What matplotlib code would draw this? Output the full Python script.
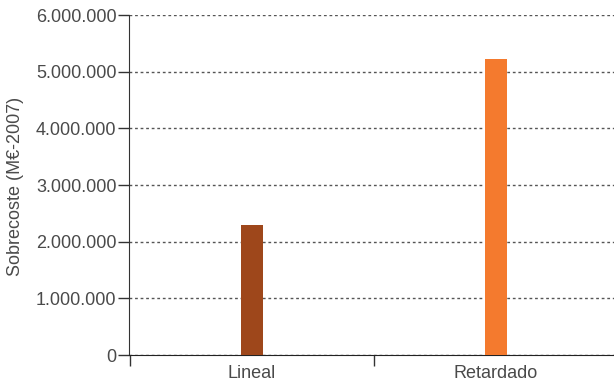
import matplotlib
matplotlib.use("Agg")
import matplotlib.pyplot as plt
from matplotlib.ticker import FuncFormatter, FixedLocator

categories = ["Lineal", "Retardado"]
values = [2290000, 5215000]
colors = ["#9E471B", "#F47A2E"]
yticks = [0, 1000000, 2000000, 3000000, 4000000, 5000000, 6000000]

plt.rcParams['font.family'] = ['Liberation Sans', 'DejaVu Sans']

fig = plt.figure(figsize=(6.14, 3.84), dpi=100)
ax = fig.add_axes([129/614, 1-355/384, 1-129/614, (355-15)/384])

x = list(range(len(categories)))
ax.bar(x, values, width=0.09, color=colors, zorder=3)

ax.set_xlim(-0.504, 1.484)
ax.set_ylim(0, 6000000)
ax.set_yticks(yticks)
ax.yaxis.set_major_formatter(FuncFormatter(lambda v, p: f"{int(v):,}".replace(",", ".")))
ax.set_xticks(x)
ax.set_xticklabels(categories)
ax.xaxis.set_minor_locator(FixedLocator([-0.5 + i for i in range(len(categories) + 1)]))

ax.tick_params(axis='x', which='major', length=0, pad=7, labelsize=13, labelcolor='#4a4a4a')
ax.tick_params(axis='x', which='minor', length=8, width=1, color='#333333', direction='out')
ax.tick_params(axis='y', length=8, width=1, color='#333333', labelsize=13, labelcolor='#4a4a4a', pad=1)

for s in ['top', 'right']:
    ax.spines[s].set_visible(False)
ax.spines['left'].set_color('#333333')
ax.spines['bottom'].set_color('#222222')
ax.spines['left'].set_bounds(0, 6000000)

ax.yaxis.grid(True, linestyle=(0, (2, 2)), color='#555555', linewidth=1, zorder=0)
ax.set_axisbelow(True)

fig.text(16/614, 1-186/384, "Sobrecoste (M€-2007)", rotation=90, ha='center', va='center',
         fontsize=13, color='#4a4a4a')

fig.savefig("out.png", dpi=100)
